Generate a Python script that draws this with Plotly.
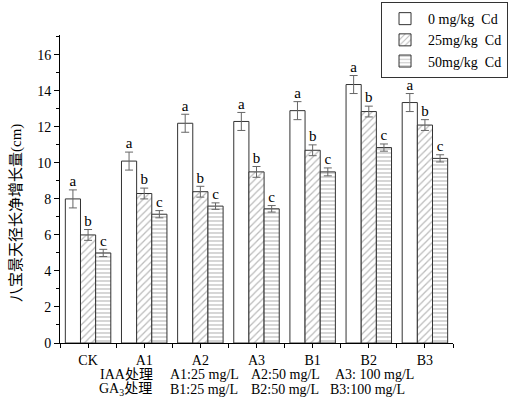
import plotly.graph_objects as go

categories = ["CK", "A1", "A2", "A3", "B1", "B2", "B3"]
series_names = ["0 mg/kg  Cd", "25mg/kg  Cd", "50mg/kg  Cd"]
vals_0 = [8.0, 10.1, 12.2, 12.3, 12.9, 14.35, 13.35]
vals_25 = [6.0, 8.3, 8.4, 9.5, 10.7, 12.85, 12.1]
vals_50 = [5.0, 7.15, 7.6, 7.45, 9.5, 10.85, 10.25]
err_0 = [0.5, 0.5, 0.5, 0.5, 0.5, 0.5, 0.5]
err_25 = [0.3, 0.3, 0.3, 0.3, 0.3, 0.3, 0.3]
err_50 = [0.2, 0.2, 0.18, 0.18, 0.22, 0.2, 0.2]
letters_0 = ["a"] * 7
letters_25 = ["b"] * 7
letters_50 = ["c"] * 7
iaa_texts = ["IAA处理", "A1:25 mg/L", "A2:50 mg/L", "A3: 100 mg/L"]
ga_texts = ["GA<sub>3</sub>处理", "B1:25 mg/L", "B2:50 mg/L", "B3:100 mg/L"]
y_title = "八宝景天径长净增长量(cm)"

FONT = "Liberation Serif, Times New Roman, Noto Sans CJK SC"
BAR_W = 0.27

series = [
    (series_names[0], vals_0, err_0, letters_0, dict(shape="")),
    (series_names[1], vals_25, err_25, letters_25,
     dict(shape="/", fgcolor="#777777", bgcolor="white", size=5, solidity=0.25)),
    (series_names[2], vals_50, err_50, letters_50,
     dict(shape="-", fgcolor="#777777", bgcolor="white", size=4, solidity=0.3)),
]

fig = go.Figure()
for k, (name, vals, errs, letters, pattern) in enumerate(series):
    xs = [i + (k - 1) * BAR_W for i in range(len(categories))]
    fig.add_trace(go.Bar(
        x=xs, y=vals, width=BAR_W, name=name,
        marker=dict(color="white", line=dict(color="#333333", width=1), pattern=pattern),
        error_y=dict(type="data", array=errs, color="#666666", thickness=1, width=4),
    ))
    fig.add_trace(go.Scatter(
        x=xs, y=[v + e for v, e in zip(vals, errs)], mode="text", text=letters,
        textposition="top center", textfont=dict(family=FONT, size=15, color="black"),
        showlegend=False, hoverinfo="skip", cliponaxis=False,
    ))

fig.update_layout(
    width=511, height=397,
    margin=dict(l=60, r=58, t=35, b=54, autoexpand=False),
    paper_bgcolor="white", plot_bgcolor="white",
    barmode="overlay",
    font=dict(family=FONT, size=14, color="black"),
    showlegend=True,
    legend=dict(
        x=1.14, y=1.107, xanchor="right", yanchor="top",
        bordercolor="#333333", borderwidth=1, bgcolor="white",
        font=dict(family=FONT, size=14), tracegroupgap=0, itemwidth=36,
    ),
)
fig.update_xaxes(
    range=[-0.5, 6.5], tickmode="array",
    tickvals=list(range(len(categories))), ticktext=categories,
    showline=True, linecolor="black", linewidth=1,
    ticks="outside", ticklen=4, tickcolor="black",
    minor=dict(tickmode="linear", tick0=-0.5, dtick=1, ticks="outside", ticklen=4, tickcolor="black"),
    showgrid=False, zeroline=False,
)
fig.update_yaxes(
    range=[0, 17.1], tickmode="linear", tick0=0, dtick=2,
    showline=True, linecolor="black", linewidth=1,
    ticks="outside", ticklen=5, tickcolor="black",
    minor=dict(tickmode="linear", tick0=1, dtick=2, ticks="outside", ticklen=3, tickcolor="black"),
    showgrid=False, zeroline=False,
)

# y-axis title
fig.add_annotation(
    text=y_title, xref="paper", yref="paper", x=(16 - 60) / 393, y=(343 - 213) / 308,
    textangle=-90, showarrow=False, font=dict(family=FONT, size=15),
    xanchor="center", yanchor="middle",
)

# bottom notes
iaa_x = [98, 168, 249, 333]
ga_x = [97, 168, 249, 328]
for txt, px in zip(iaa_texts, iaa_x):
    fig.add_annotation(text=txt, xref="paper", yref="paper", x=(px - 60) / 393,
                       y=(343 - 374) / 308, xanchor="left", yanchor="middle",
                       showarrow=False, font=dict(family=FONT, size=14))
for txt, px in zip(ga_texts, ga_x):
    fig.add_annotation(text=txt, xref="paper", yref="paper", x=(px - 60) / 393,
                       y=(343 - 389) / 308, xanchor="left", yanchor="middle",
                       showarrow=False, font=dict(family=FONT, size=14))

fig.write_html(
    "out.html",
    config={"displayModeBar": False},
    post_script="document.body.style.margin='0';document.body.style.overflow='hidden';",
)
